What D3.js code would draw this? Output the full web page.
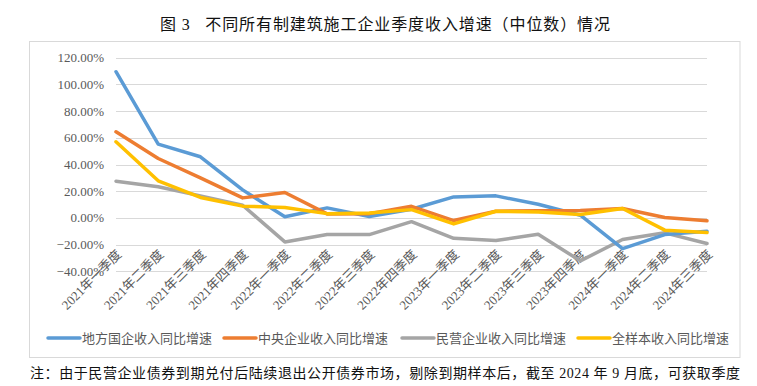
<!DOCTYPE html>
<html>
<head>
<meta charset="utf-8">
<script src="https://cdn.jsdelivr.net/npm/d3@7"></script>
<style>
  body { margin: 0; background: white; }
</style>
</head>
<body>
<div id="chart"></div>
<script>

const quarters = ["2021年一季度", "2021年二季度", "2021年三季度", "2021年四季度",
    "2022年一季度", "2022年二季度", "2022年三季度", "2022年四季度",
    "2023年一季度", "2023年二季度", "2023年三季度", "2023年四季度",
    "2024年一季度", "2024年二季度", "2024年三季度"]

const localSoe = [109.5, 55.3, 45.8, 21, 0.8, 7.5, 1, 6.5, 15.7, 16.5, 10.2, 2, -23, -12.5, -10]
const centralSoe = [64.5, 44.5, 30, 15, 19, 3, 3.2, 8.7, -2, 5, 5.3, 5.5, 7, 0.3, -2.2]
const privateEnt = [27.5, 23.3, 16.5, 9.5, -18, -12.5, -12.5, -2.8, -15.3, -17, -12.2, -32.2, -16.2, -11.2, -19.2]
const allSample = [57, 27.8, 15.3, 8.8, 7.8, 3.2, 3.7, 6.2, -4.5, 5, 4.5, 2.5, 7, -9.2, -11]

const yTicks = [-40, -20, 0, 20, 40, 60, 80, 100, 120]

const seriesNames = ["地方国企收入同比增速", "中央企业收入同比增速", "民营企业收入同比增速", "全样本收入同比增速"]
const seriesColors = ["#5B9BD5", "#ED7D31", "#A5A5A5", "#FFC000"]

const width = 757
const height = 386

const svg = d3.select("#chart").append("svg")
    .attr("width", width)
    .attr("height", height)
    .style("display", "block")

const serif = "'Liberation Serif', 'Noto Sans CJK SC', serif"

// title
svg.append("text")
    .attr("x", 160)
    .attr("y", 30)
    .attr("textLength", 450)
    .attr("lengthAdjust", "spacing")
    .style("font-family", serif)
    .style("font-size", "16px")
    .style("fill", "#111")
    .text("图 3\u00a0\u00a0\u00a0不同所有制建筑施工企业季度收入增速（中位数）情况")

// chart frame
svg.append("rect")
    .attr("x", 29.5)
    .attr("y", 41.5)
    .attr("width", 710.5)
    .attr("height", 316)
    .style("fill", "white")
    .style("stroke", "#d9d9d9")
    .style("stroke-width", 1)

const x = d3.scalePoint()
    .domain(quarters)
    .range([116, 707])

const y = d3.scaleLinear()
    .domain([-40, 120])
    .range([271.3, 57.7])

// gridlines
svg.append("g")
    .selectAll("line")
    .data(yTicks)
    .join("line")
    .attr("x1", 116)
    .attr("x2", 707)
    .attr("y1", d => Math.round(y(d)) + 0.5)
    .attr("y2", d => Math.round(y(d)) + 0.5)
    .style("stroke", "#d9d9d9")
    .style("stroke-width", 1)

// y tick labels
svg.append("g")
    .selectAll("text")
    .data(yTicks)
    .join("text")
    .attr("x", 104)
    .attr("y", d => y(d))
    .attr("dy", "0.35em")
    .attr("text-anchor", "end")
    .style("font-family", serif)
    .style("font-size", "13px")
    .style("fill", "#595959")
    .text(d => d3.format(".2f")(d) + "%")

// x labels, rotated
svg.append("g")
    .selectAll("text")
    .data(quarters)
    .join("text")
    .attr("transform", d => "translate(" + (x(d) + 3) + ", 252) rotate(-45)")
    .attr("dy", "0.35em")
    .attr("text-anchor", "end")
    .style("font-family", serif)
    .style("font-size", "13px")
    .style("fill", "#595959")
    .text(d => d)

const allSeries = [localSoe, centralSoe, privateEnt, allSample]

const line = d3.line()
    .x((d, i) => x(quarters[i]))
    .y(d => y(d))

// draw gray first so the others sit on top like the original
const drawOrder = [2, 0, 1, 3]
drawOrder.forEach(function (k) {
    svg.append("path")
        .datum(allSeries[k])
        .attr("d", line)
        .style("fill", "none")
        .style("stroke", seriesColors[k])
        .style("stroke-width", 3.5)
        .style("stroke-linejoin", "round")
        .style("stroke-linecap", "round")
})

// legend
const legendX = [48, 224, 402, 578]
const legend = svg.append("g")
    .selectAll("g")
    .data(seriesNames)
    .join("g")
    .attr("transform", (d, i) => "translate(" + legendX[i] + ", 338)")

legend.append("line")
    .attr("x1", 0)
    .attr("x2", 32)
    .style("stroke", (d, i) => seriesColors[i])
    .style("stroke-width", 3.5)
    .style("stroke-linecap", "round")

legend.append("text")
    .attr("x", 34)
    .attr("dy", "0.35em")
    .style("font-family", serif)
    .style("font-size", "13px")
    .style("fill", "#595959")
    .text(d => d)

// footnote
svg.append("text")
    .attr("x", 30)
    .attr("y", 378)
    .attr("textLength", 710)
    .attr("lengthAdjust", "spacing")
    .style("font-family", serif)
    .style("font-size", "14px")
    .style("fill", "#111")
    .text("注：由于民营企业债券到期兑付后陆续退出公开债券市场，剔除到期样本后，截至 2024 年 9 月底，可获取季度")

</script>
</body>
</html>
